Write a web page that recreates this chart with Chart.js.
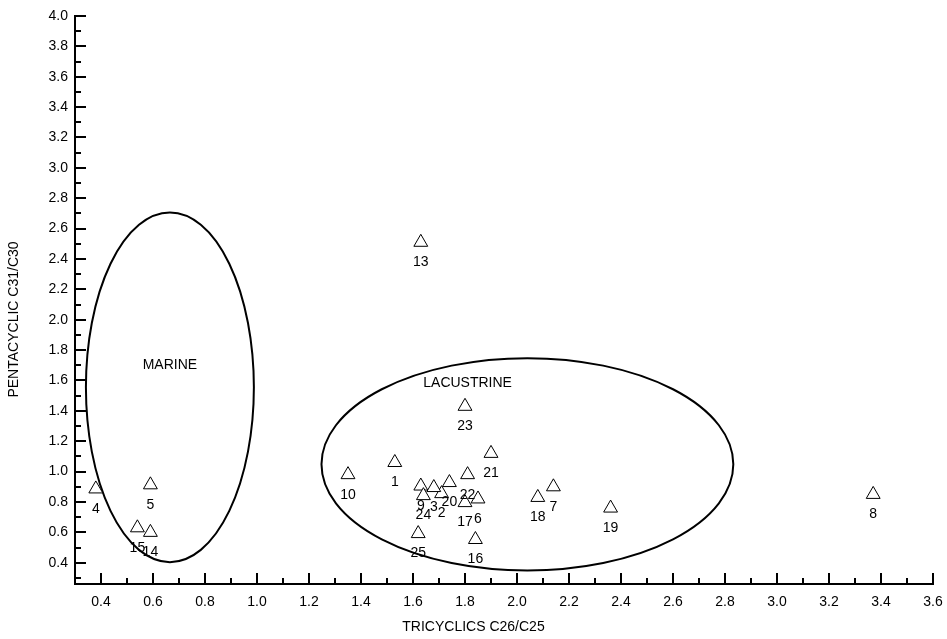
<!DOCTYPE html>
<html>
<head>
<meta charset="utf-8">
<script src="https://cdn.jsdelivr.net/npm/chart.js@4/dist/chart.umd.min.js"></script>
<style>
  html, body { margin: 0; padding: 0; background: #fff; }
  #wrap { width: 947px; height: 639px; position: relative; }
</style>
</head>
<body>
<div id="wrap"><canvas id="scatter"></canvas></div>
<script>
// muestras (numero de muestra, C26/C25, C31/C30)
const sampleIds = ['1', '2', '3', '4', '5', '6', '7', '8', '9', '10', '13', '14', '15',
                   '16', '17', '18', '19', '20', '21', '22', '23', '24', '25'];
const tricyclic = [1.53, 1.71, 1.68, 0.38, 0.59, 1.85, 2.14, 3.37, 1.63, 1.35, 1.63, 0.59, 0.54,
                   1.84, 1.80, 2.08, 2.36, 1.74, 1.90, 1.81, 1.80, 1.64, 1.62];
const pentacyclic = [1.06, 0.855, 0.895, 0.886, 0.913, 0.82, 0.90, 0.85, 0.905, 0.98, 2.51, 0.60, 0.63,
                     0.553, 0.796, 0.83, 0.76, 0.928, 1.12, 0.98, 1.43, 0.842, 0.592];

// campos (elipses) en unidades de los ejes
const fieldNames = ['MARINE', 'LACUSTRINE'];
const fieldCx = [0.665, 2.04];
const fieldCy = [1.555, 1.048];
const fieldRx = [0.323, 0.792];
const fieldRy = [1.151, 0.699];
const fieldLabelX = [0.665, 1.81];
const fieldLabelY = [1.70, 1.58];

// etiquetas de los ejes
const xTicks = [0.4, 0.6, 0.8, 1.0, 1.2, 1.4, 1.6, 1.8, 2.0, 2.2, 2.4, 2.6, 2.8, 3.0, 3.2, 3.4, 3.6];
const yTicks = [0.4, 0.6, 0.8, 1.0, 1.2, 1.4, 1.6, 1.8, 2.0, 2.2, 2.4, 2.6, 2.8, 3.0, 3.2, 3.4, 3.6, 3.8, 4.0];
const xTitle = 'TRICYCLICS C26/C25';
const yTitle = 'PENTACYCLIC C31/C30';

const FAMILY = '"Liberation Sans", Arial, sans-serif';
const FONT = '14px ' + FAMILY;

const points = tricyclic.map((x, i) => ({ x: x, y: pentacyclic[i] }));

// dibuja elipses, marcas de los ejes, etiquetas y titulos
const extras = {
    id: 'extras',
    beforeDatasetsDraw(chart) {
        const ctx = chart.ctx;
        const xs = chart.scales.x, ys = chart.scales.y;
        ctx.save();
        ctx.strokeStyle = '#000';
        ctx.lineWidth = 2;
        fieldNames.forEach((name, i) => {
            const cx = xs.getPixelForValue(fieldCx[i]);
            const cy = ys.getPixelForValue(fieldCy[i]);
            const rx = Math.abs(xs.getPixelForValue(fieldCx[i] + fieldRx[i]) - cx);
            const ry = Math.abs(ys.getPixelForValue(fieldCy[i] + fieldRy[i]) - cy);
            ctx.beginPath();
            ctx.ellipse(cx, cy, rx, ry, 0, 0, Math.PI * 2);
            ctx.stroke();
        });
        ctx.restore();
    },
    afterDraw(chart) {
        const ctx = chart.ctx;
        const xs = chart.scales.x, ys = chart.scales.y;
        const area = chart.chartArea;
        ctx.save();
        ctx.strokeStyle = '#000';
        ctx.lineWidth = 2;
        // marcas hacia adentro: mayores y menores
        const major = 11, minor = 6;
        for (let v = 0.3; v <= 3.601; v += 0.1) {
            const isMajor = xTicks.some(t => Math.abs(t - v) < 1e-6);
            const px = Math.round(xs.getPixelForValue(v));
            ctx.beginPath();
            ctx.moveTo(px, area.bottom);
            ctx.lineTo(px, area.bottom - (isMajor ? major : minor));
            ctx.stroke();
        }
        for (let v = 0.3; v <= 4.001; v += 0.1) {
            const isMajor = yTicks.some(t => Math.abs(t - v) < 1e-6);
            const py = Math.round(ys.getPixelForValue(v));
            ctx.beginPath();
            ctx.moveTo(area.left, py);
            ctx.lineTo(area.left + (isMajor ? major : minor), py);
            ctx.stroke();
        }

        ctx.fillStyle = '#000';
        ctx.font = FONT;
        ctx.textAlign = 'center';
        ctx.textBaseline = 'middle';
        // numero de cada muestra debajo del triangulo
        points.forEach((p, i) => {
            ctx.fillText(sampleIds[i], xs.getPixelForValue(p.x), ys.getPixelForValue(p.y) + 20);
        });
        fieldNames.forEach((name, i) => {
            ctx.fillText(name, xs.getPixelForValue(fieldLabelX[i]), ys.getPixelForValue(fieldLabelY[i]));
        });

        // titulos de los ejes
        ctx.fillText(xTitle, chart.width / 2, 627);
        ctx.translate(14, chart.height / 2);
        ctx.rotate(-Math.PI / 2);
        ctx.fillText(yTitle, 0, 0);
        ctx.restore();
    }
};

const ctx1 = document.getElementById('scatter');

const grafico = new Chart(ctx1, {
    type: 'scatter',
    data: {
        datasets: [{
            data: points,
            pointStyle: 'triangle',
            pointRadius: 8,
            pointHoverRadius: 8,
            pointBackgroundColor: '#fff',
            pointBorderColor: '#000',
            pointBorderWidth: 1
        }]
    },
    options: {
        responsive: true,
        maintainAspectRatio: false,
        animation: false,
        devicePixelRatio: 1,
        layout: { padding: { top: 16, right: 14, left: 0, bottom: 0 } },
        plugins: {
            legend: { display: false },
            tooltip: { enabled: false }
        },
        scales: {
            x: {
                type: 'linear',
                min: 0.3,
                max: 3.6,
                afterBuildTicks: s => { s.ticks = xTicks.map(v => ({ value: v })); },
                afterFit: s => { s.height = 55; s.paddingLeft = 0; s.paddingRight = 0; },
                grid: { display: false, drawTicks: false },
                border: { display: true, color: '#000', width: 2 },
                ticks: {
                    color: '#000',
                    font: { family: FAMILY, size: 14 },
                    padding: 10,
                    maxRotation: 0,
                    autoSkip: false,
                    callback: v => v.toFixed(1)
                }
            },
            y: {
                type: 'linear',
                min: 0.26,
                max: 4.0,
                afterBuildTicks: s => { s.ticks = yTicks.map(v => ({ value: v })); },
                afterFit: s => { s.width = 75; s.paddingTop = 0; s.paddingBottom = 0; },
                grid: { display: false, drawTicks: false },
                border: { display: true, color: '#000', width: 2 },
                ticks: {
                    color: '#000',
                    font: { family: FAMILY, size: 14 },
                    padding: 7,
                    autoSkip: false,
                    callback: v => v.toFixed(1)
                }
            }
        }
    },
    plugins: [extras]
});
</script>
</body>
</html>
